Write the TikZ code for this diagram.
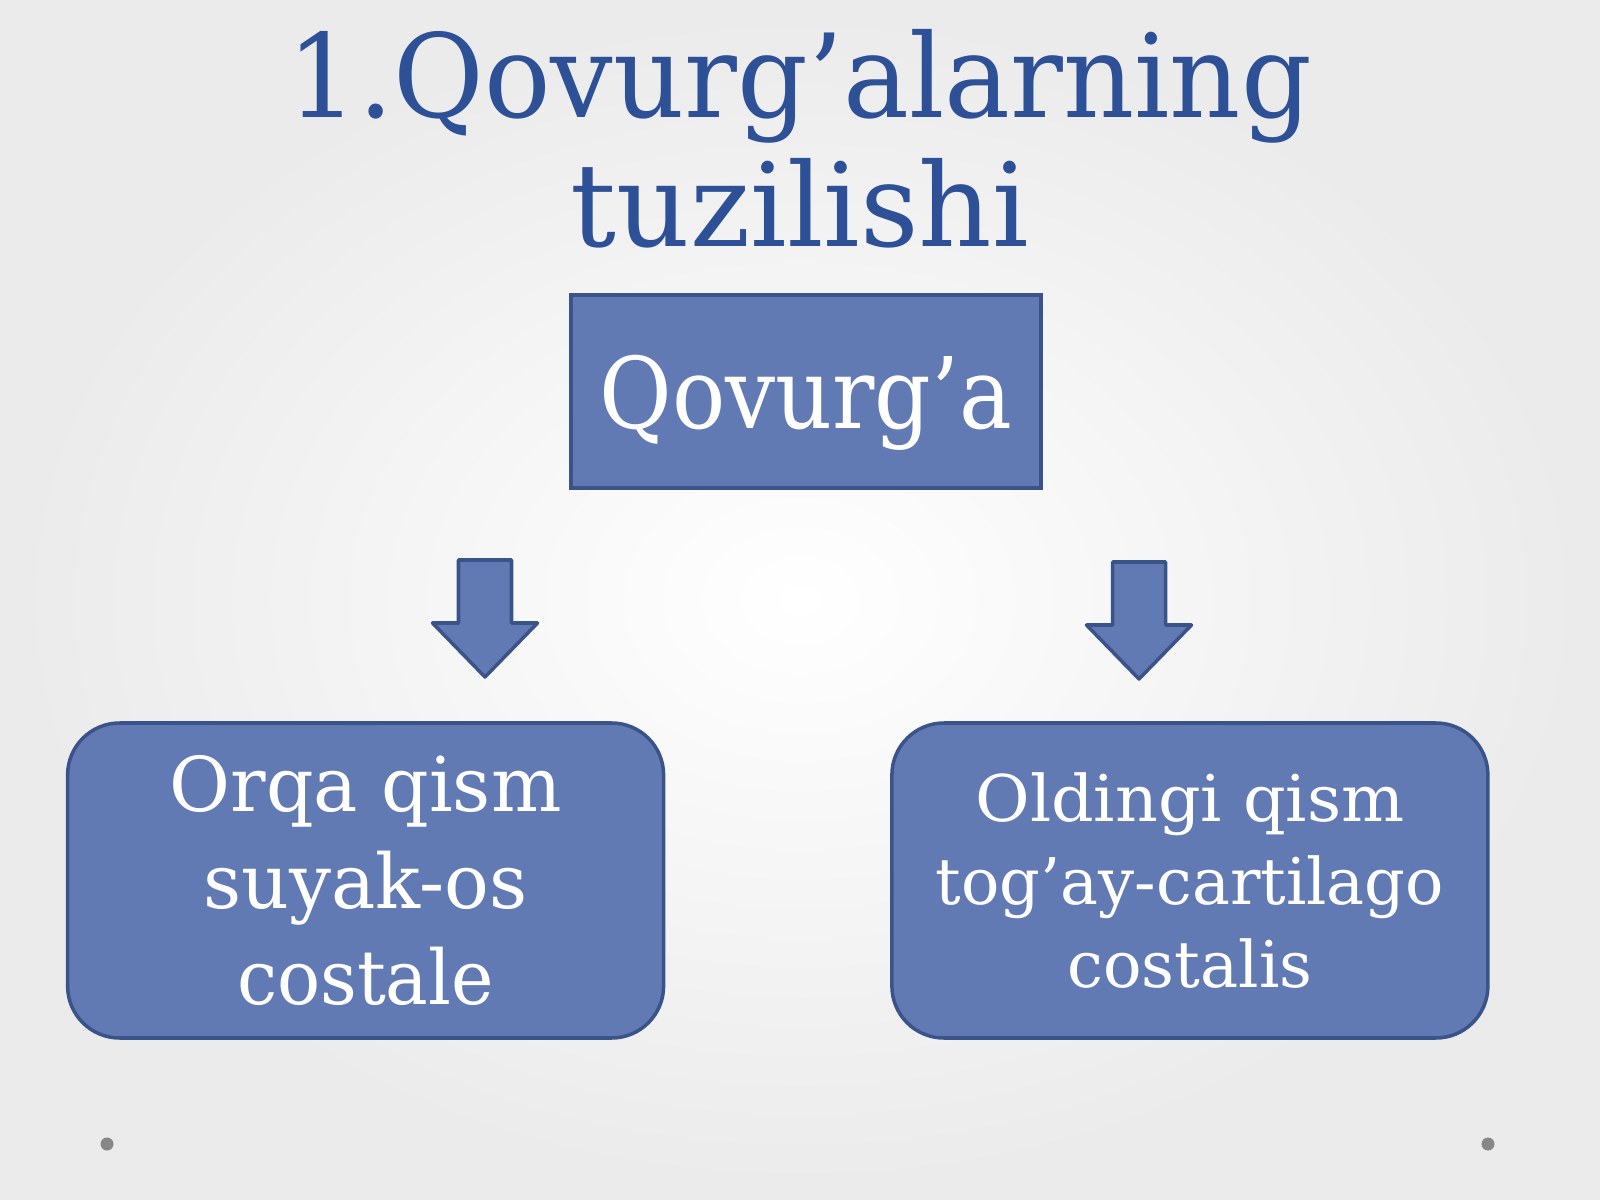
\documentclass[tikz,border=0pt]{standalone}
\usepackage{fontspec}
\setmainfont{DejaVu Serif}
\usepackage{graphicx}
\usetikzlibrary{positioning}
\definecolor{titlecolor}{RGB}{45,80,150}
\definecolor{boxcolor}{RGB}{98,122,180}
\definecolor{boxborder}{RGB}{58,84,138}
\definecolor{dotcolor}{RGB}{135,135,135}
\newcommand{\fitw}[2]{\resizebox{#1}{\height}{#2}}

\begin{document}
\begin{tikzpicture}[
    x=0.1mm, y=-0.1mm,
    element/.style={rectangle, draw=boxborder, fill=boxcolor, line width=1pt,
		text=white, inner sep=0pt, align=center},
    partbox/.style={element, rounded corners=5.2mm,
		minimum width=59.6mm, minimum height=31.5mm},
    downarrow/.pic={
		\filldraw[fill=boxcolor, draw=boxborder, line width=1pt, line join=round]
		(-26.5,0) -- (26.5,0) -- (26.5,63) -- (52.5,63) -- (0,117)
		-- (-52.5,63) -- (-26.5,63) -- cycle;}
    ]

\shade[inner color=white, outer color=black!8] (0,0) rectangle (1600,1200);
\useasboundingbox (0,0) rectangle (1600,1200);

\node[text=titlecolor, align=center, font=\fontsize{33}{36.7}\selectfont] (title) at (800,139) {%
	\fitw{102.4mm}{1.Qovurg’alarning}\\
	\fitw{45.8mm}{tuzilishi}%
};

\node[element, minimum width=47mm, minimum height=19.3mm, text depth=0pt,
	font=\fontsize{28.1}{30}\selectfont] (qovurga) at (806,391.5) {%
	\fitw{41.3mm}{Qovurg’a}%
};

\node[partbox, font=\fontsize{21.5}{27.5}\selectfont] (orqa) at (365.6,880.5) {%
	\fitw{39.2mm}{Orqa qism}\\
	\fitw{32.4mm}{suyak-os}\\
	\fitw{25.7mm}{costale}%
};

\node[partbox, font=\fontsize{18.3}{23.5}\selectfont] (oldingi) at (1189.9,880.5) {%
	\fitw{42.9mm}{Oldingi qism}\\
	\fitw{50.8mm}{tog’ay-cartilago}\\
	\fitw{24.5mm}{costalis}%
};

\pic at (485,560) {downarrow};
\pic at (1139,562) {downarrow};

\fill[dotcolor] (107,1144) circle (6.5);
\fill[dotcolor] (1488,1144) circle (6.5);

\end{tikzpicture}
\end{document}
